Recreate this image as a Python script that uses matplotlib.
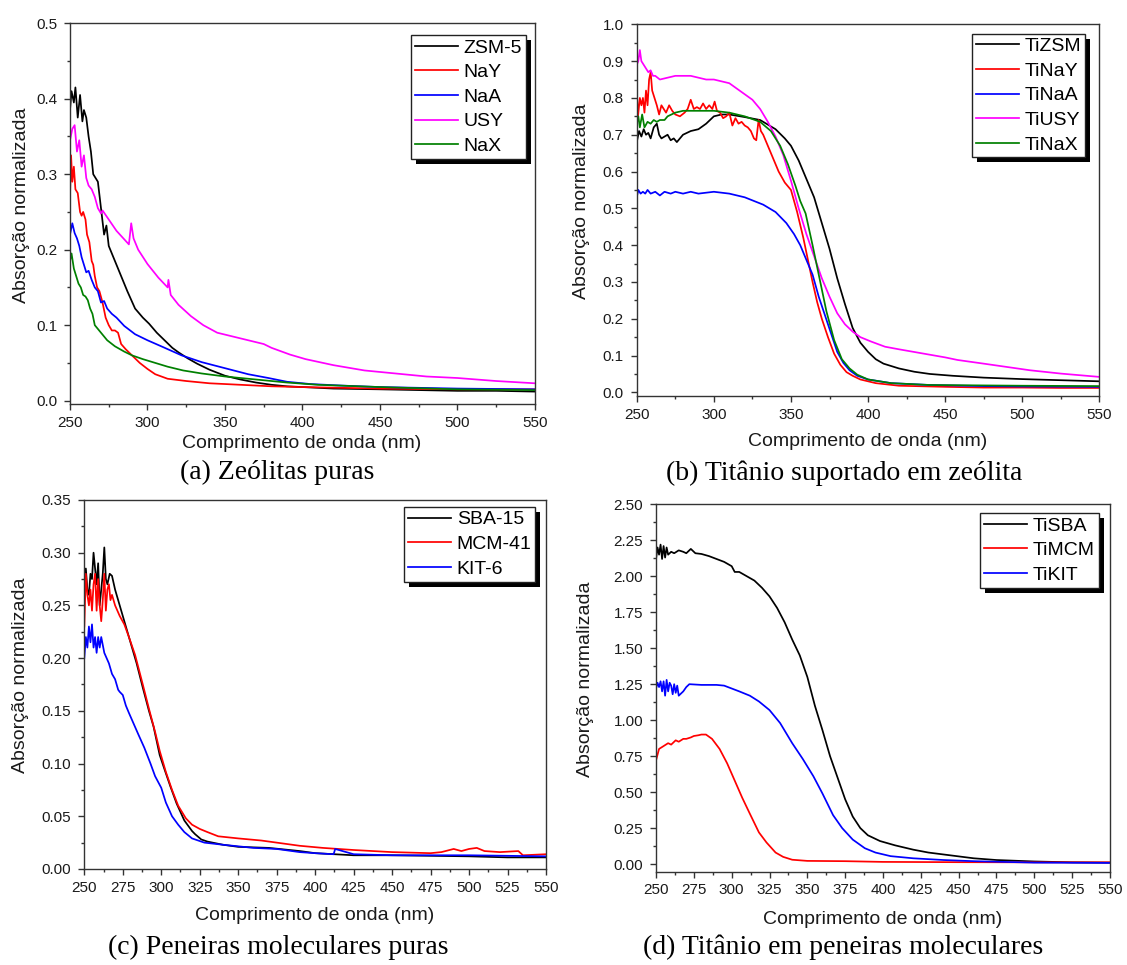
import matplotlib
matplotlib.use("Agg")
import matplotlib.pyplot as plt
from matplotlib.ticker import MultipleLocator, FormatStrFormatter
from matplotlib.patches import Rectangle

W, H = 1127, 965

# ---------------------------------------------------------------- data
# (a) pure zeolites
wl_zsm5 = [250, 251, 252.5, 253.5, 255, 256.5, 258, 259, 260.5, 262,
           263.5, 265, 266.5, 268, 270, 272, 273.5, 275, 277, 280,
           283, 287, 292, 297, 301, 306, 311, 316, 320, 326,
           332, 340, 350, 360, 370, 380, 390, 400, 420, 450,
           475, 500, 525, 550]
ab_zsm5 = [0.385, 0.41, 0.395, 0.415, 0.375, 0.405, 0.37, 0.385, 0.375, 0.35,
           0.33, 0.30, 0.295, 0.29, 0.255, 0.22, 0.232, 0.205, 0.195, 0.18,
           0.165, 0.145, 0.122, 0.11, 0.102, 0.09, 0.08, 0.07, 0.064, 0.056,
           0.049, 0.041, 0.033, 0.028, 0.024, 0.021, 0.019, 0.018, 0.016, 0.015,
           0.014, 0.013, 0.013, 0.012]

wl_nay = [250, 250.7, 251.5, 252.5, 253.5, 255, 256.5, 257.5, 258.5, 260,
          261, 262.5, 264, 265, 266, 267.5, 269, 271, 273, 275,
          277, 279, 281, 283, 286, 290, 295, 300, 305, 313,
          325, 340, 360, 380, 400, 450, 500, 550]
ab_nay = [0.27, 0.325, 0.29, 0.31, 0.28, 0.275, 0.25, 0.245, 0.25, 0.24,
          0.22, 0.21, 0.185, 0.18, 0.165, 0.15, 0.145, 0.13, 0.11, 0.10,
          0.093, 0.093, 0.09, 0.075, 0.068, 0.06, 0.05, 0.042, 0.035, 0.029,
          0.026, 0.023, 0.021, 0.019, 0.018, 0.016, 0.015, 0.015]

wl_naa = [250, 251.5, 253, 254.5, 256, 257.5, 259, 260.5, 262, 264,
          266, 268, 270, 272, 274, 277, 280, 285, 292, 300,
          310, 322, 335, 350, 365, 378, 390, 405, 425, 450,
          500, 550]
ab_naa = [0.22, 0.235, 0.222, 0.215, 0.205, 0.19, 0.18, 0.17, 0.172, 0.16,
          0.15, 0.145, 0.13, 0.132, 0.122, 0.115, 0.11, 0.099, 0.088, 0.08,
          0.071, 0.06, 0.051, 0.043, 0.035, 0.03, 0.025, 0.022, 0.02, 0.018,
          0.016, 0.015]

wl_usy = [250, 251.5, 253, 254.5, 256, 257.5, 259, 260.5, 262, 264,
          266, 268, 270, 271, 275, 280, 284, 288, 289.5, 291,
          294, 300, 307, 313, 313.5, 315, 320, 328, 336, 345,
          355, 365, 375, 380, 392, 402, 420, 440, 460, 480,
          500, 525, 550]
ab_usy = [0.345, 0.36, 0.365, 0.33, 0.345, 0.31, 0.325, 0.295, 0.285, 0.28,
          0.27, 0.255, 0.248, 0.252, 0.24, 0.225, 0.216, 0.207, 0.235, 0.215,
          0.20, 0.181, 0.163, 0.15, 0.16, 0.14, 0.127, 0.112, 0.10, 0.09,
          0.085, 0.08, 0.075, 0.07, 0.061, 0.055, 0.047, 0.04, 0.036, 0.032,
          0.03, 0.026, 0.023]

wl_nax = [250, 251, 252.5, 254, 255.5, 257, 258.5, 260, 261.5, 263,
          264.5, 266, 268, 270, 274, 279, 285, 290, 297, 305,
          313, 323, 335, 350, 370, 390, 410, 450, 500, 550]
ab_nax = [0.185, 0.195, 0.175, 0.165, 0.155, 0.15, 0.14, 0.138, 0.133, 0.122,
          0.115, 0.10, 0.095, 0.09, 0.08, 0.072, 0.065, 0.06, 0.055, 0.05,
          0.045, 0.04, 0.036, 0.032, 0.028, 0.024, 0.021, 0.018, 0.015, 0.014]

# (b) titanium on zeolites
wl_tizsm = [250, 251.5, 253, 254.5, 256, 257.5, 259, 261, 263, 264.5,
            266, 268, 270, 272, 274, 276, 280, 285, 290, 295,
            300, 305, 310, 320, 330, 340, 346, 350, 355, 360,
            365, 370, 375, 380, 385, 390, 395, 400, 405, 410,
            420, 430, 440, 455, 475, 500, 525, 550]
ab_tizsm = [0.68, 0.71, 0.695, 0.715, 0.70, 0.705, 0.69, 0.72, 0.73, 0.70,
            0.69, 0.695, 0.70, 0.685, 0.69, 0.68, 0.70, 0.71, 0.715, 0.73,
            0.75, 0.755, 0.755, 0.748, 0.74, 0.715, 0.69, 0.67, 0.63, 0.58,
            0.53, 0.46, 0.39, 0.31, 0.24, 0.175, 0.135, 0.11, 0.09, 0.078,
            0.065, 0.056, 0.05, 0.045, 0.04, 0.036, 0.033, 0.03]

wl_tinay = [250, 250.8, 252, 253, 254, 255, 256, 257, 258, 259,
            260, 261.5, 263, 264.5, 266, 267.5, 269, 271, 273, 275,
            278, 281, 283, 285, 287, 289, 291, 293, 295, 297,
            299, 300.5, 302, 304, 306, 308, 310, 312, 314, 316,
            318, 320, 322, 324, 326, 327.5, 329, 330.5, 332, 335,
            338, 342, 346, 350, 354, 358, 361, 364, 367, 370,
            374, 378, 382, 386, 390, 395, 405, 420, 450, 475,
            500, 525, 550]
ab_tinay = [0.82, 0.75, 0.80, 0.78, 0.80, 0.76, 0.82, 0.78, 0.85, 0.87,
            0.82, 0.80, 0.78, 0.755, 0.78, 0.77, 0.76, 0.78, 0.765, 0.755,
            0.75, 0.76, 0.77, 0.795, 0.77, 0.775, 0.77, 0.785, 0.77, 0.78,
            0.77, 0.79, 0.765, 0.76, 0.745, 0.75, 0.76, 0.725, 0.745, 0.73,
            0.735, 0.725, 0.72, 0.71, 0.69, 0.685, 0.74, 0.71, 0.70, 0.67,
            0.64, 0.60, 0.57, 0.55, 0.49, 0.42, 0.36, 0.30, 0.245, 0.20,
            0.15, 0.105, 0.075, 0.055, 0.045, 0.035, 0.025, 0.018, 0.015, 0.013,
            0.013, 0.012, 0.012]

wl_tinaa = [250, 251, 252.5, 254, 255.5, 257, 259, 262, 265, 268,
            272, 275, 280, 285, 290, 300, 310, 320, 332, 340,
            347, 352, 356, 360, 364, 368, 372, 376, 380, 384,
            388, 393, 400, 415, 440, 475, 500, 550]
ab_tinaa = [0.53, 0.55, 0.54, 0.545, 0.54, 0.55, 0.54, 0.545, 0.535, 0.545,
            0.54, 0.545, 0.54, 0.545, 0.54, 0.545, 0.54, 0.53, 0.51, 0.49,
            0.46, 0.43, 0.40, 0.36, 0.32, 0.26, 0.21, 0.16, 0.11, 0.08,
            0.06, 0.045, 0.035, 0.025, 0.02, 0.017, 0.016, 0.015]

wl_tiusy = [250, 251, 252, 253, 254.5, 256, 257.5, 259, 260.5, 262,
            265, 270, 275, 280, 285, 290, 295, 300, 305, 310,
            315, 320, 325, 330, 335, 340, 345, 350, 355, 360,
            365, 370, 375, 380, 385, 390, 395, 402, 411, 420,
            435, 450, 458, 475, 490, 505, 525, 550]
ab_tiusy = [0.89, 0.90, 0.93, 0.90, 0.89, 0.88, 0.87, 0.875, 0.86, 0.86,
            0.85, 0.855, 0.86, 0.86, 0.86, 0.855, 0.85, 0.85, 0.845, 0.84,
            0.825, 0.81, 0.795, 0.77, 0.735, 0.695, 0.645, 0.575, 0.50, 0.43,
            0.37, 0.31, 0.26, 0.215, 0.185, 0.165, 0.15, 0.138, 0.124, 0.117,
            0.106, 0.095, 0.088, 0.078, 0.069, 0.06, 0.051, 0.042]

wl_tinax = [250, 251, 252, 253.5, 255, 257, 259, 261, 263, 265,
            268, 270, 275, 280, 290, 300, 310, 320, 330, 337,
            343, 348, 353, 356, 359.5, 364, 369, 373, 378, 383,
            388, 393, 400, 415, 440, 500, 550]
ab_tinax = [0.73, 0.75, 0.72, 0.755, 0.72, 0.735, 0.73, 0.74, 0.735, 0.74,
            0.74, 0.75, 0.76, 0.765, 0.765, 0.765, 0.76, 0.75, 0.735, 0.71,
            0.67, 0.62, 0.56, 0.52, 0.486, 0.40, 0.30, 0.22, 0.142, 0.09,
            0.065, 0.048, 0.035, 0.025, 0.02, 0.018, 0.017]

# (c) pure molecular sieves
wl_sba = [250, 251, 252, 253, 254, 255, 256, 257, 258, 259,
          260, 261, 262, 263, 264, 265, 266.5, 268, 270, 272,
          274, 276, 278, 281, 284, 288, 292, 295, 299, 302,
          306, 310, 315, 318, 320, 322, 326, 330, 340, 350,
          370, 390, 400, 425, 450, 500, 525, 550]
ab_sba = [0.28, 0.285, 0.265, 0.26, 0.28, 0.275, 0.30, 0.285, 0.27, 0.29,
          0.25, 0.265, 0.28, 0.305, 0.275, 0.27, 0.28, 0.278, 0.265, 0.255,
          0.245, 0.235, 0.225, 0.21, 0.195, 0.172, 0.15, 0.135, 0.108, 0.095,
          0.078, 0.062, 0.046, 0.04, 0.036, 0.033, 0.028, 0.026, 0.023, 0.021,
          0.02, 0.017, 0.015, 0.013, 0.013, 0.012, 0.011, 0.011]

wl_mcm = [250, 251, 252, 253, 254, 255, 256, 257, 258, 259,
          260, 261, 262, 263, 264, 265, 266, 267, 268, 270,
          273, 276, 279, 283, 288, 292, 296, 299, 303, 307,
          311, 316, 320, 325, 330, 337, 350, 365, 375, 390,
          405, 425, 450, 475, 482, 490, 495, 500, 505, 510,
          520, 532, 535, 550]
ab_mcm = [0.23, 0.28, 0.26, 0.25, 0.265, 0.245, 0.27, 0.28, 0.245, 0.275,
          0.25, 0.235, 0.255, 0.28, 0.245, 0.265, 0.27, 0.255, 0.26, 0.25,
          0.24, 0.232, 0.22, 0.203, 0.175, 0.152, 0.13, 0.112, 0.092, 0.075,
          0.06, 0.048, 0.042, 0.038, 0.035, 0.031, 0.029, 0.027, 0.025, 0.022,
          0.02, 0.018, 0.016, 0.015, 0.016, 0.019, 0.017, 0.019, 0.02, 0.017,
          0.016, 0.017, 0.013, 0.014]

wl_kit = [250, 251, 252, 253, 254, 255, 256, 257, 258, 259,
          260, 261, 263, 264.5, 266, 268, 270, 272, 273, 275,
          277, 279, 282, 285, 289, 293, 296, 300, 303, 307,
          311, 315, 320, 328, 340, 360, 375, 380, 390, 400,
          412, 413, 425, 450, 500, 550]
ab_kit = [0.20, 0.22, 0.21, 0.23, 0.215, 0.232, 0.21, 0.22, 0.205, 0.22,
          0.21, 0.22, 0.205, 0.2, 0.195, 0.185, 0.18, 0.17, 0.168, 0.165,
          0.155, 0.148, 0.138, 0.128, 0.115, 0.1, 0.088, 0.077, 0.063, 0.05,
          0.042, 0.035, 0.029, 0.025, 0.023, 0.02, 0.019, 0.018, 0.016, 0.015,
          0.014, 0.019, 0.014, 0.013, 0.013, 0.012]

# (d) titanium on molecular sieves
wl_tisba = [250, 251, 252, 253, 254, 255, 256, 257, 258, 260,
            262, 265, 268, 270, 273, 276, 280, 285, 290, 295,
            300, 302, 305, 310, 315, 320, 325, 330, 335, 340,
            345, 350, 355, 360, 365, 370, 375, 380, 385, 390,
            398, 408, 420, 430, 445, 460, 475, 490, 500, 525,
            550]
ab_tisba = [2.12, 2.20, 2.15, 2.22, 2.12, 2.21, 2.13, 2.20, 2.15, 2.17,
            2.16, 2.18, 2.17, 2.16, 2.19, 2.16, 2.155, 2.14, 2.12, 2.10,
            2.07, 2.03, 2.03, 2.00, 1.97, 1.92, 1.86, 1.78, 1.68, 1.56,
            1.45, 1.30, 1.10, 0.93, 0.75, 0.60, 0.45, 0.33, 0.25, 0.20,
            0.16, 0.13, 0.10, 0.08, 0.06, 0.04, 0.028, 0.022, 0.018, 0.012,
            0.01]

wl_timcm = [250, 252, 255, 258, 260, 263, 265, 268, 270, 273,
            275, 278, 280, 283, 287, 292, 297, 302, 307, 312,
            318, 323, 329, 334, 340, 350, 375, 400, 450, 500,
            550]
ab_timcm = [0.72, 0.80, 0.82, 0.84, 0.83, 0.86, 0.85, 0.87, 0.87, 0.88,
            0.89, 0.895, 0.90, 0.90, 0.87, 0.80, 0.70, 0.58, 0.46, 0.35,
            0.22, 0.15, 0.08, 0.05, 0.03, 0.022, 0.02, 0.015, 0.013, 0.012,
            0.012]

wl_tikit = [250, 251, 252, 253, 254, 255, 256, 257, 258, 259,
            260, 261, 262, 263, 264, 265, 266, 268, 270, 272,
            280, 290, 295, 300, 305, 312, 318, 325, 332, 340,
            347, 354, 360, 367, 373, 380, 388, 395, 405, 420,
            440, 460, 480, 500, 550]
ab_tikit = [1.22, 1.26, 1.23, 1.27, 1.20, 1.27, 1.17, 1.28, 1.20, 1.26,
            1.24, 1.18, 1.25, 1.19, 1.24, 1.17, 1.18, 1.20, 1.23, 1.25,
            1.245, 1.245, 1.24, 1.22, 1.20, 1.17, 1.13, 1.07, 0.98, 0.84,
            0.73, 0.61, 0.49, 0.34, 0.25, 0.17, 0.11, 0.08, 0.055, 0.04,
            0.028, 0.02, 0.015, 0.01, 0.008]

BLACK, RED, BLUE, MAGENTA, GREEN = "#000000", "#ff0000", "#0000ff", "#ff00ff", "#008000"
LW = 1.25

SANS = ["Liberation Sans", "DejaVu Sans"]
SERIF = ["Liberation Serif", "DejaVu Serif"]
plt.rcParams["font.family"] = SANS


def px(x, y):
    return x / W, 1 - y / H


def style_axes(ax, ylim, ymajor, yminor, xmajor, xminor, yfmt):
    ax.set_xlim(250, 550)
    ax.set_ylim(*ylim)
    ax.xaxis.set_major_locator(MultipleLocator(xmajor))
    ax.xaxis.set_minor_locator(MultipleLocator(xminor))
    ax.yaxis.set_major_locator(MultipleLocator(ymajor))
    ax.yaxis.set_minor_locator(MultipleLocator(yminor))
    ax.yaxis.set_major_formatter(FormatStrFormatter(yfmt))
    ax.tick_params(which="both", direction="out", top=False, right=False,
                   colors="#333333", labelcolor="#1a1a1a")
    ax.tick_params(which="major", length=4.3, width=1.0, labelsize=11)
    ax.tick_params(which="minor", length=2.2, width=1.0)
    ax.tick_params(axis="x", which="major", pad=4)
    ax.tick_params(axis="y", which="major", pad=5)
    for s in ax.spines.values():
        s.set_color("#333333")
        s.set_linewidth(1.0)


def add_legend(ax, anchor):
    leg = ax.legend(loc="upper right", bbox_to_anchor=anchor, borderaxespad=0,
                    fontsize=14, frameon=True, fancybox=False, framealpha=1,
                    edgecolor="#222222", handlelength=2.2, handletextpad=0.3,
                    labelspacing=0.36, borderpad=0.2)
    leg.get_frame().set_linewidth(1.0)
    leg.set_zorder(6)
    return leg


fig = plt.figure(figsize=(W / 100, H / 100), dpi=100)

panels = []

# (a)
ax_a = fig.add_axes([0.0621, 0.5813, 0.4126, 0.3946])
ax_a.plot(wl_zsm5, ab_zsm5, color=BLACK, lw=LW, label="ZSM-5")
ax_a.plot(wl_nay, ab_nay, color=RED, lw=LW, label="NaY")
ax_a.plot(wl_naa, ab_naa, color=BLUE, lw=LW, label="NaA")
ax_a.plot(wl_usy, ab_usy, color=MAGENTA, lw=LW, label="USY")
ax_a.plot(wl_nax, ab_nax, color=GREEN, lw=LW, label="NaX")
style_axes(ax_a, (-0.0045, 0.5), 0.1, 0.05, 50, 25, "%.1f")
panels.append((ax_a, add_legend(ax_a, (0.981, 0.969))))

# (b)
ax_b = fig.add_axes([0.5650, 0.5896, 0.4105, 0.3852])
ax_b.plot(wl_tizsm, ab_tizsm, color=BLACK, lw=LW, label="TiZSM")
ax_b.plot(wl_tinay, ab_tinay, color=RED, lw=LW, label="TiNaY")
ax_b.plot(wl_tinaa, ab_tinaa, color=BLUE, lw=LW, label="TiNaA")
ax_b.plot(wl_tiusy, ab_tiusy, color=MAGENTA, lw=LW, label="TiUSY")
ax_b.plot(wl_tinax, ab_tinax, color=GREEN, lw=LW, label="TiNaX")
style_axes(ax_b, (-0.01, 1.0), 0.1, 0.05, 50, 25, "%.1f")
panels.append((ax_b, add_legend(ax_b, (0.969, 0.975))))

# (c)
ax_c = fig.add_axes([0.0748, 0.0995, 0.4097, 0.3824])
ax_c.plot(wl_sba, ab_sba, color=BLACK, lw=LW, label="SBA-15")
ax_c.plot(wl_mcm, ab_mcm, color=RED, lw=LW, label="MCM-41")
ax_c.plot(wl_kit, ab_kit, color=BLUE, lw=LW, label="KIT-6")
style_axes(ax_c, (0.0, 0.35), 0.05, 0.025, 25, 12.5, "%.2f")
panels.append((ax_c, add_legend(ax_c, (0.977, 0.981))))

# (d)
ax_d = fig.add_axes([0.5821, 0.0967, 0.4028, 0.3807])
ax_d.plot(wl_tisba, ab_tisba, color=BLACK, lw=LW, label="TiSBA")
ax_d.plot(wl_timcm, ab_timcm, color=RED, lw=LW, label="TiMCM")
ax_d.plot(wl_tikit, ab_tikit, color=BLUE, lw=LW, label="TiKIT")
style_axes(ax_d, (-0.053, 2.5), 0.25, 0.125, 25, 12.5, "%.2f")
panels.append((ax_d, add_legend(ax_d, (0.975, 0.976))))

# axis labels and captions (pixel positions of the reference)
texts = [
    ((21.7, 205), (302, 444), (277, 472), "(a) Zeólitas puras"),
    ((581, 201), (868, 442), (844, 473), "(b) Titânio suportado em zeólita"),
    ((20.5, 675), (315, 916), (278, 947), "(c) Peneiras moleculares puras"),
    ((585.5, 679), (883, 920), (843, 947), "(d) Titânio em peneiras moleculares"),
]
for ylab, xlab, cap, caption in texts:
    fig.text(*px(*ylab), "Absorção normalizada", rotation=90, ha="center",
             va="center", fontsize=14, color="#1a1a1a")
    fig.text(*px(*xlab), "Comprimento de onda (nm)", ha="center", va="center",
             fontsize=14, color="#1a1a1a")
    fig.text(*px(*cap), caption, ha="center", va="center", fontsize=20,
             family=SERIF, color="black")

# Origin-style solid shadow behind each legend box
fig.canvas.draw()
renderer = fig.canvas.get_renderer()
for ax, leg in panels:
    bb = leg.get_frame().get_window_extent(renderer)
    inv = ax.transAxes.inverted()
    (x0, y0), (x1, y1) = inv.transform([(bb.x0 + 5, bb.y0 - 5), (bb.x1 + 5, bb.y1 - 5)])
    ax.add_patch(Rectangle((x0, y0), x1 - x0, y1 - y0, transform=ax.transAxes,
                           facecolor="black", edgecolor="none", zorder=5.5,
                           clip_on=False))

fig.savefig("out.png", dpi=100)
